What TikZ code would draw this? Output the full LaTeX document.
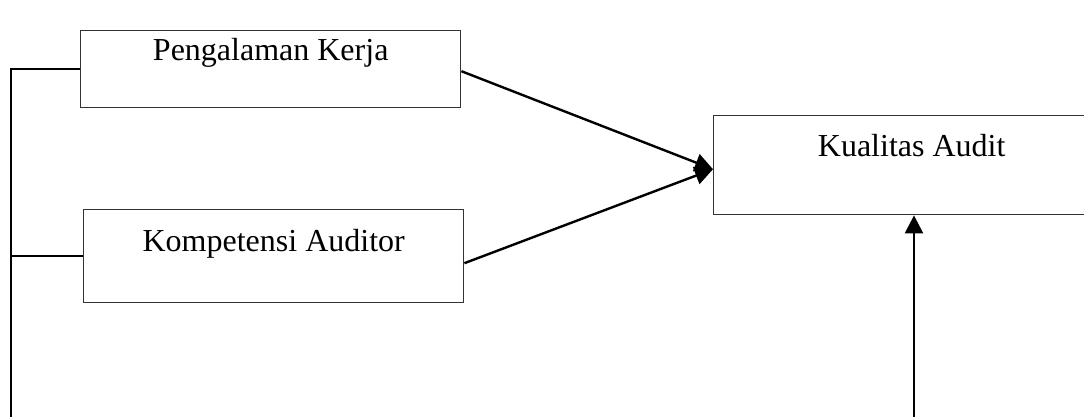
\documentclass[tikz,border=0pt]{standalone}
\usepackage{fontspec}
\setmainfont{Liberation Serif}
\usetikzlibrary{arrows.meta}

\begin{document}
\begin{tikzpicture}[x=0.5pt, y=-0.5pt,
  kotak/.style={draw=black!80, line width=0.7pt, inner sep=0pt, minimum width=190pt,
    font=\fontsize{16}{19}\selectfont},
  garis/.style={line width=1.2pt},
  panah/.style={line width=1.2pt, -{Triangle[length=9pt, width=9pt]}}]
\useasboundingbox (0,0) rectangle (1084,417);
\clip (0,0) rectangle (1084,417);

\node[kotak, anchor=north west, text height=15pt, text depth=23.5pt] (pk) at (80,30) {Pengalaman Kerja};
\node[kotak, anchor=north west, text height=21pt, text depth=25.5pt] (ka) at (83,209) {Kompetensi Auditor};
\node[kotak, anchor=north west, text height=20.5pt, text depth=29pt, minimum width=198pt] (ku) at (713,115) {Kualitas Audit};

\coordinate (kiri) at (11,417);
\coordinate (bawah) at (914,417);

\draw[garis] (pk.west) -| (kiri);
\draw[garis] (ka.west) -- (ka.west -| kiri);

\draw[panah] ([yshift=-1pt]pk.east) -- ([yshift=-2pt]ku.west);
\draw[panah] ([yshift=-3.5pt]ka.east) -- ([yshift=-2pt]ku.west);
\draw[panah] (bawah) -- (bawah |- ku.south);
\end{tikzpicture}
\end{document}
